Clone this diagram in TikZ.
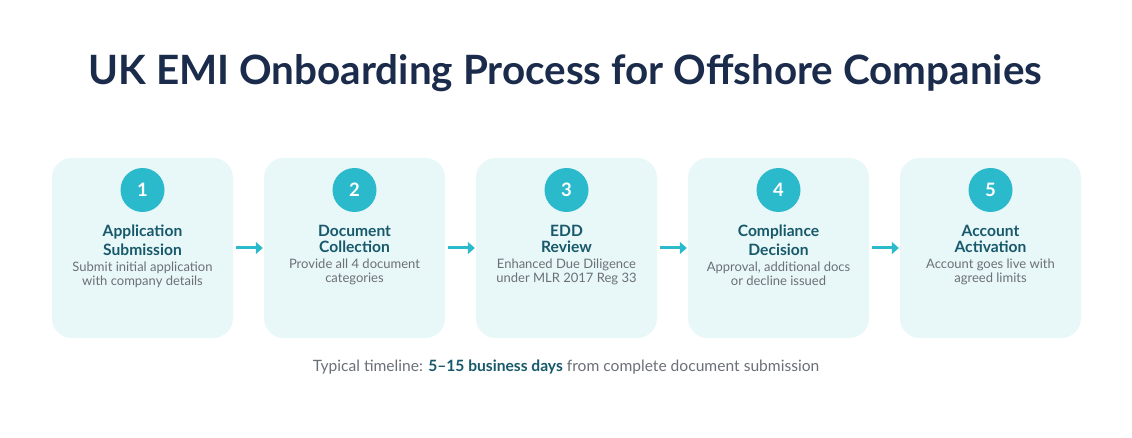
\documentclass[tikz,border=0pt]{standalone}
\usepackage{fontspec}
\setmainfont{Lato}
\usetikzlibrary{arrows.meta}
\definecolor{boxfill}{HTML}{E8F7F8}
\definecolor{teal}{HTML}{2BB9CC}
\definecolor{titlecol}{HTML}{1B2B4B}
\definecolor{steptitle}{HTML}{17596B}
\definecolor{desccol}{HTML}{6B7078}
\tikzset{
  stepbox/.style={fill=boxfill, rounded corners=20pt, minimum width=181pt, minimum height=180pt, inner sep=0pt},
  numcircle/.style={circle, fill=teal, minimum size=44pt, inner sep=0pt, text=white, font=\fontsize{18.5}{18.5}\selectfont\bfseries},
  sttl/.style={anchor=base, inner sep=0pt, text=steptitle, font=\fontsize{15.6}{15.6}\selectfont\bfseries},
  sdesc/.style={anchor=base, inner sep=0pt, text=desccol, font=\fontsize{13}{13}\selectfont},
  flow/.style={draw=teal, line width=3pt, -{Triangle[length=7pt,width=12pt]}},
}
\begin{document}
\begin{tikzpicture}[x=1pt,y=-1pt]
\useasboundingbox[fill=white] (0,0) rectangle (1132,438);
\node[anchor=base, text=titlecol, font=\fontsize{40.4}{40.4}\selectfont\bfseries] (title) at (565.5,85) {UK EMI Onboarding Process for Offshore Companies};
% boxes
\foreach \i/\n in {0/1,1/2,2/3,3/4,4/5}{
  \node[stepbox] (b\n) at ({142.5+212*\i},248) {};
  \node[numcircle] (c\n) at ({142.5+212*\i},190) {\n};
}
% texts box 1
\node[sttl] (t1a) at (142.5,236.7) {Application};
\node[sttl] (t1b) at (142.5,256) {Submission};
\node[sdesc] (d1a) at (142.5,271.7) {Submit initial application};
\node[sdesc] (d1b) at (142.5,286) {with company details};
% box 2
\node[sttl] (t2a) at (354.5,236.7) {Document};
\node[sttl] (t2b) at (354.5,252.3) {Collection};
\node[sdesc] (d2a) at (354.5,268.3) {Provide all 4 document};
\node[sdesc] (d2b) at (354.5,282.7) {categories};
% box 3
\node[sttl] (t3a) at (566.5,236.7) {EDD};
\node[sttl] (t3b) at (566.5,252.3) {Review};
\node[sdesc] (d3a) at (566.5,268.3) {Enhanced Due Diligence};
\node[sdesc] (d3b) at (566.5,282.7) {under MLR 2017 Reg 33};
% box 4
\node[sttl] (t4a) at (778.5,236.7) {Compliance};
\node[sttl] (t4b) at (778.5,256) {Decision};
\node[sdesc] (d4a) at (778.5,271.7) {Approval, additional docs};
\node[sdesc] (d4b) at (778.5,286) {or decline issued};
% box 5
\node[sttl] (t5a) at (990.5,236.7) {Account};
\node[sttl] (t5b) at (990.5,252.3) {Activation};
\node[sdesc] (d5a) at (990.5,268.3) {Account goes live with};
\node[sdesc] (d5b) at (990.5,282.7) {agreed limits};
% arrows
\foreach \a/\b in {1/2,2/3,3/4,4/5}{
  \draw[flow] ([xshift=3pt]b\a.east |- 0,248) -- ([xshift=-1pt]b\b.west |- 0,248);
}
% footer
\node[anchor=base, inner sep=0pt, text=desccol, font=\fontsize{15.6}{15.6}\selectfont] (foot) at (566,371) {Typical timeline: \textcolor{steptitle}{\bfseries 5–15 business days} from complete document submission};
\end{tikzpicture}
\end{document}
